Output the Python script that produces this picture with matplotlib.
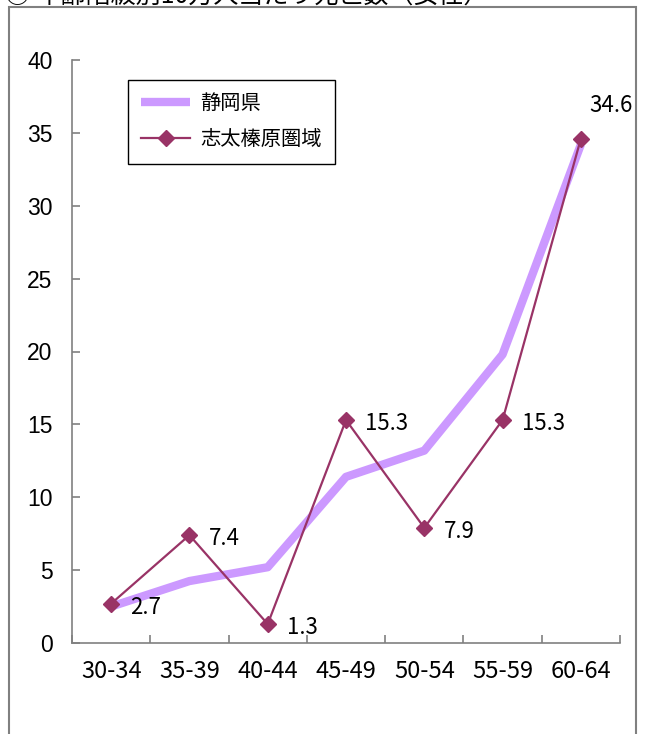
import matplotlib
matplotlib.use('Agg')
import matplotlib.pyplot as plt
from matplotlib.patches import Rectangle
from matplotlib.font_manager import FontProperties

# ---- data ----
categories = ['30-34', '35-39', '40-44', '45-49', '50-54', '55-59', '60-64']
shizuoka = [2.5, 4.25, 5.2, 11.4, 13.2, 19.8, 34.2]
shida = [2.7, 7.4, 1.3, 15.3, 7.9, 15.3, 34.6]
yticks = [0, 5, 10, 15, 20, 25, 30, 35, 40]
series_names = ['静岡県', '志太榛原圏域']
title = '○ 年齢階級別10万人当たり死亡数（女性）'

plt.rcParams['font.family'] = ['Noto Sans CJK JP', 'DejaVu Sans']

W, H = 645, 734
fig = plt.figure(figsize=(W / 100, H / 100), dpi=100)
fig.patch.set_facecolor('white')

# outer frame (partially clipped at the bottom)
fig.patches.append(Rectangle((9 / W, -0.05), 627 / W, 1.05 - 7 / H,
                             transform=fig.transFigure, fill=False,
                             edgecolor='#808080', lw=1.5))

# title at very top (clipped in the reference as well)
fig.text(5 / W, 1 - 3 / H, title, fontsize=18, ha='left', va='baseline',
         color='black')

ax = fig.add_axes([72 / W, 1 - 643 / H, 548 / W, 583 / H])
x = list(range(len(categories)))

ax.plot(x, shizuoka, color='#CC99FF', lw=6, solid_capstyle='butt',
        solid_joinstyle='round', label=series_names[0], zorder=2)
ax.plot(x, shida, color='#993366', lw=1.6, marker='D', ms=8,
        label=series_names[1], zorder=3)

for i, v in enumerate(shida):
    if i == len(shida) - 1:
        off = (6, 24)
    else:
        off = (14, -2.5)
    ax.annotate(f'{v:.1f}', (i, v), xytext=off, textcoords='offset points',
                ha='left', va='center', fontsize=16, color='black')

ax.set_xlim(-0.5, len(categories) - 0.5)
ax.set_ylim(0, 40)

ax.set_xticks(x)
ax.set_xticklabels(categories, fontsize=17)
ax.set_xticks([i - 0.5 for i in range(len(categories) + 1)], minor=True)
ax.tick_params(axis='x', which='major', length=0, pad=12)
ax.tick_params(axis='x', which='minor', direction='in', length=6,
               color='#808080', width=1.2)

ax.set_yticks(yticks)
ax.set_yticklabels([str(t) for t in yticks], fontsize=16.5,
                   family='Liberation Sans')
ax.tick_params(axis='y', direction='in', length=6, color='#808080',
               width=1.2, pad=14)

for s in ['top', 'right']:
    ax.spines[s].set_visible(False)
for s in ['left', 'bottom']:
    ax.spines[s].set_color('#808080')
    ax.spines[s].set_linewidth(1.2)

leg = ax.legend(loc='upper left', bbox_to_anchor=(56 / 548, (643 - 80) / 583),
                borderaxespad=0, frameon=True, fancybox=False,
                edgecolor='black', framealpha=1, handlelength=2.4,
                prop=FontProperties(family='Noto Sans CJK JP', size=14.6),
                labelspacing=0.75, borderpad=0.65, handletextpad=0.5,
                numpoints=1)
leg.get_frame().set_linewidth(1.0)

fig.savefig('out.png', dpi=100)
